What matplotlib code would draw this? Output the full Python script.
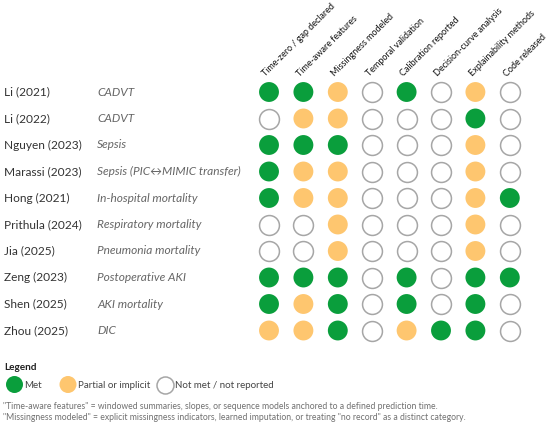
import matplotlib
matplotlib.use("Agg")
import matplotlib.pyplot as plt

studies = ["Li (2021)", "Li (2022)", "Nguyen (2023)", "Marassi (2023)", "Hong (2021)",
           "Prithula (2024)", "Jia (2025)", "Zeng (2023)", "Shen (2025)", "Zhou (2025)"]
domains = ["CADVT", "CADVT", "Sepsis", "Sepsis (PIC\u2194MIMIC transfer)", "In-hospital mortality",
           "Respiratory mortality", "Pneumonia mortality", "Postoperative AKI", "AKI mortality", "DIC"]
criteria = ["Time-zero / gap declared", "Time-aware features", "Missingness modeled",
            "Temporal validation", "Calibration reported", "Decision-curve analysis",
            "Explainability methods", "Code released"]
# G = met, P = partial or implicit, N = not met / not reported
status = [
    "GGPNGNPN",
    "NPPNNNGN",
    "GGGNNNPN",
    "GPPNNNPN",
    "GPPNNNPG",
    "NNPNNNPN",
    "NNPNNNPN",
    "GGGNGNGG",
    "GPGNGNGN",
    "PPGNPGGN",
]
legend_labels = ["Met", "Partial or implicit", "Not met / not reported"]
footnotes = [
    "\"Time-aware features\" = windowed summaries, slopes, or sequence models anchored to a defined prediction time.",
    "\"Missingness modeled\" = explicit missingness indicators, learned imputation, or treating \"no record\" as a distinct category.",
]

GREEN = "#0a9e3c"
ORANGE = "#fec66f"
EDGE = "#a6a6a6"
FONT = ["Lato", "DejaVu Sans"]

fig = plt.figure(figsize=(5.5, 4.25), dpi=100)
ax = fig.add_axes([0, 0, 1, 1])
ax.set_xlim(0, 550)
ax.set_ylim(425, 0)
ax.axis("off")

x0, dx = 269, 34.4
y0, dy = 92, 26.5
S = 205

def draw(xs, ys, code, size=S):
    if code == "G":
        ax.scatter(xs, ys, s=size, c=GREEN, edgecolors="none", zorder=3)
    elif code == "P":
        ax.scatter(xs, ys, s=size, c=ORANGE, edgecolors="none", zorder=3)
    else:
        ax.scatter(xs, ys, s=size, facecolors="white", edgecolors=EDGE, linewidths=1.1, zorder=3)

for r, row in enumerate(status):
    y = y0 + r * dy
    ax.text(4, y, studies[r], fontsize=8.6, color="#333333", va="center", ha="left", family=FONT)
    ax.text(97, y, domains[r], fontsize=8.6, color="#666666", va="center", ha="left",
            style="italic", family=FONT)
    for c, code in enumerate(row):
        draw([x0 + c * dx], [y], code)

for c, name in enumerate(criteria):
    ax.text(x0 + c * dx - 3, 77, name, fontsize=6.5, color="#111111", rotation=45,
            rotation_mode="anchor", ha="left", va="baseline", family=FONT)

ax.text(4, 368, "Legend", fontsize=7.2, fontweight="bold", color="#222222",
        va="center", ha="left", family=FONT)
leg_x = [14.5, 68, 165]
for code, lab, lx in zip("GPN", legend_labels, leg_x):
    draw([lx], [384.5], code, size=150)
    ax.text(lx + 10, 385, lab, fontsize=7.0, color="#444444", va="center", ha="left", family=FONT)

ax.text(3, 406.5, footnotes[0], fontsize=6.2, color="#707070", va="center", ha="left", family=FONT)
ax.text(3, 418, footnotes[1], fontsize=6.2, color="#707070", va="center", ha="left", family=FONT)

fig.savefig("out.png", dpi=100)
